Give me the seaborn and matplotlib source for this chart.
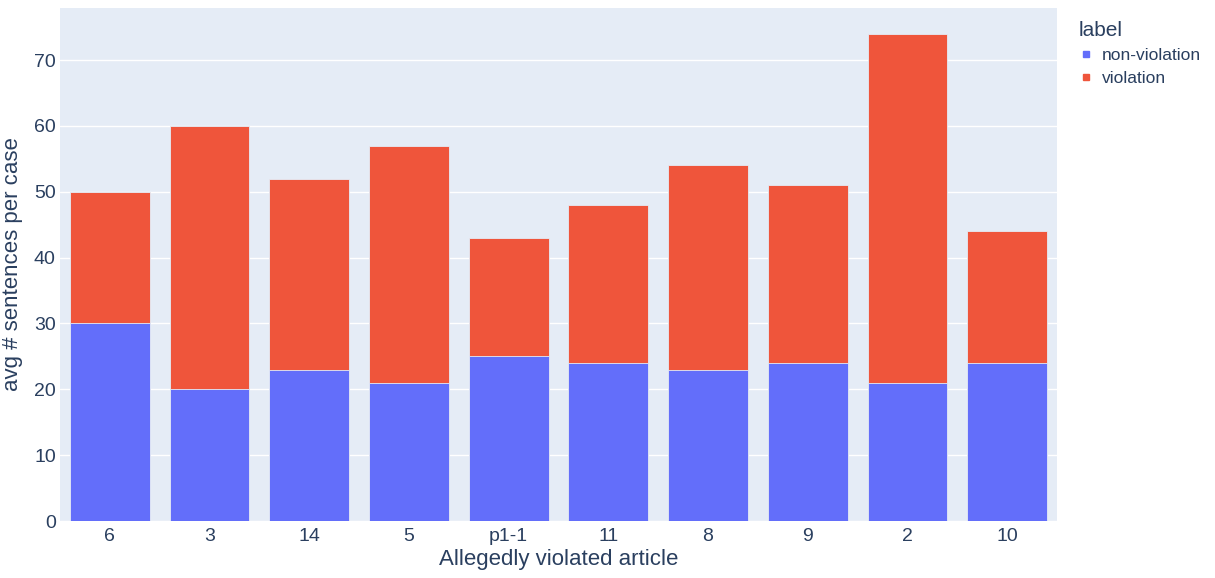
import matplotlib
matplotlib.use("Agg")
import matplotlib.pyplot as plt
import seaborn as sns
import pandas as pd
from matplotlib.lines import Line2D

articles = ["6", "3", "14", "5", "p1-1", "11", "8", "9", "2", "10"]
non_violation = [30, 20, 23, 21, 25, 24, 23, 24, 21, 24]
violation = [20, 40, 29, 36, 18, 24, 31, 27, 53, 20]

blue = "#636EFA"
red = "#EF553B"
txt = "#2a3f5f"

df = pd.DataFrame({"article": articles,
                   "non-violation": non_violation,
                   "violation": violation})
df["total"] = df["non-violation"] + df["violation"]

sns.set_style("white")
plt.rcParams["font.family"] = ["Liberation Sans", "DejaVu Sans"]

fig = plt.figure(figsize=(12.15, 5.78), dpi=100)
ax = fig.add_axes([60 / 1215, 57 / 578, 997 / 1215, 513 / 578])
ax.set_facecolor("#E5ECF6")

# stacked: total (red on top) then non-violation over it
sns.barplot(data=df, x="article", y="total", color=red, width=0.8,
            edgecolor="#E5ECF6", linewidth=0.6, saturation=1, ax=ax, zorder=2)
sns.barplot(data=df, x="article", y="non-violation", color=blue, width=0.8,
            edgecolor="#E5ECF6", linewidth=0.6, saturation=1, ax=ax, zorder=3)

ax.set_ylim(0, 77.9)
ax.set_xlim(-0.5, len(articles) - 0.5)
ax.set_yticks(range(0, 80, 10))
ax.grid(axis="y", color="white", linewidth=1, zorder=0)
ax.set_axisbelow(True)
for s in ax.spines.values():
    s.set_visible(False)
ax.tick_params(axis="both", length=0, labelsize=14, colors=txt)
ax.tick_params(axis="y", pad=3)
ax.tick_params(axis="x", pad=5)
ax.set_xlabel("Allegedly violated article", fontsize=16, color=txt, labelpad=3)
ax.set_ylabel("avg # sentences per case", fontsize=16, color=txt, labelpad=8)

handles = [Line2D([], [], marker="s", linestyle="", color=blue, markersize=5),
           Line2D([], [], marker="s", linestyle="", color=red, markersize=5)]
leg = fig.legend(handles, ["non-violation", "violation"], title="label",
                 loc="upper left", bbox_to_anchor=(1072 / 1215, 0.975),
                 frameon=False, fontsize=12.5, title_fontsize=15,
                 handlelength=0.8, handletextpad=0.5,
                 labelspacing=0.45, borderaxespad=0)
leg._legend_box.align = "left"
for t in leg.get_texts():
    t.set_color(txt)
leg.get_title().set_color(txt)

fig.savefig("out.png", dpi=100)
